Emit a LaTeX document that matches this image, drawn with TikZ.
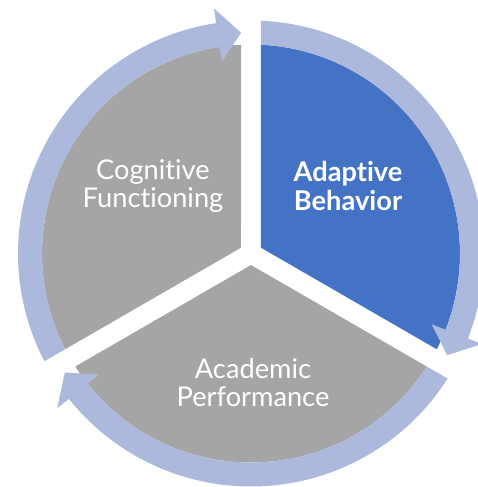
\documentclass[tikz,border=0pt]{standalone}
\usepackage{xcolor}
\usepackage{tikz}
\usepackage{fontspec}
\setmainfont{Lato}[Ligatures=NoCommon]
\definecolor{accentblue}{HTML}{4472C4}
\definecolor{accentgray}{HTML}{A5A5A5}
\definecolor{ringblue}{HTML}{ADB9DC}

\begin{document}
\begin{tikzpicture}[x=0.02cm, y=0.02cm]
	\useasboundingbox (-251,-233.5) rectangle (226,253.5);
	
	% the three pie pieces
	\fill[accentblue] (30:11.547) -- (87.26:209) arc[start angle=87.26, end angle=-27.26, radius=209] -- cycle;
	
	\fill[accentgray] (-90:11.547) -- (-32.74:209) arc[start angle=-32.74, end angle=-147.26, radius=209] -- cycle;
	
	\fill[accentgray] (150:11.547) -- (-152.74:209) arc[start angle=-152.74, end angle=-267.26, radius=209] -- cycle;
	
	% outer ring, one arrow per piece
	\fill[ringblue] (87.54:233) arc[start angle=87.54, end angle=-21.4, radius=233] -- (-21.4:248) -- (-27.41:221) -- (-21.4:194) -- (-21.4:209) arc[start angle=-21.4, end angle=87.26, radius=209] -- cycle;
	
	\fill[ringblue] (-32.46:233) arc[start angle=-32.46, end angle=-141.4, radius=233] -- (-141.4:248) -- (-147.41:221) -- (-141.4:194) -- (-141.4:209) arc[start angle=-141.4, end angle=-32.74, radius=209] -- cycle;
	
	\fill[ringblue] (-152.46:233) arc[start angle=-152.46, end angle=-261.4, radius=233] -- (-261.4:248) -- (-267.41:221) -- (-261.4:194) -- (-261.4:209) arc[start angle=-261.4, end angle=-152.74, radius=209] -- cycle;
	
	\node[align=center, text=white, font=\fontsize{15.5}{16}\selectfont\bfseries] (adaptive) at (97,67.5) {Adaptive\\Behavior};
	
	\node[align=center, text=white, font=\fontsize{15.5}{16}\selectfont] (cognitive) at (-98,67.5) {Cognitive\\Functioning};
	
	\node[align=center, text=white, font=\fontsize{15.5}{16}\selectfont] (academic) at (2,-129.5) {Academic\\Performance};
\end{tikzpicture}
\end{document}
